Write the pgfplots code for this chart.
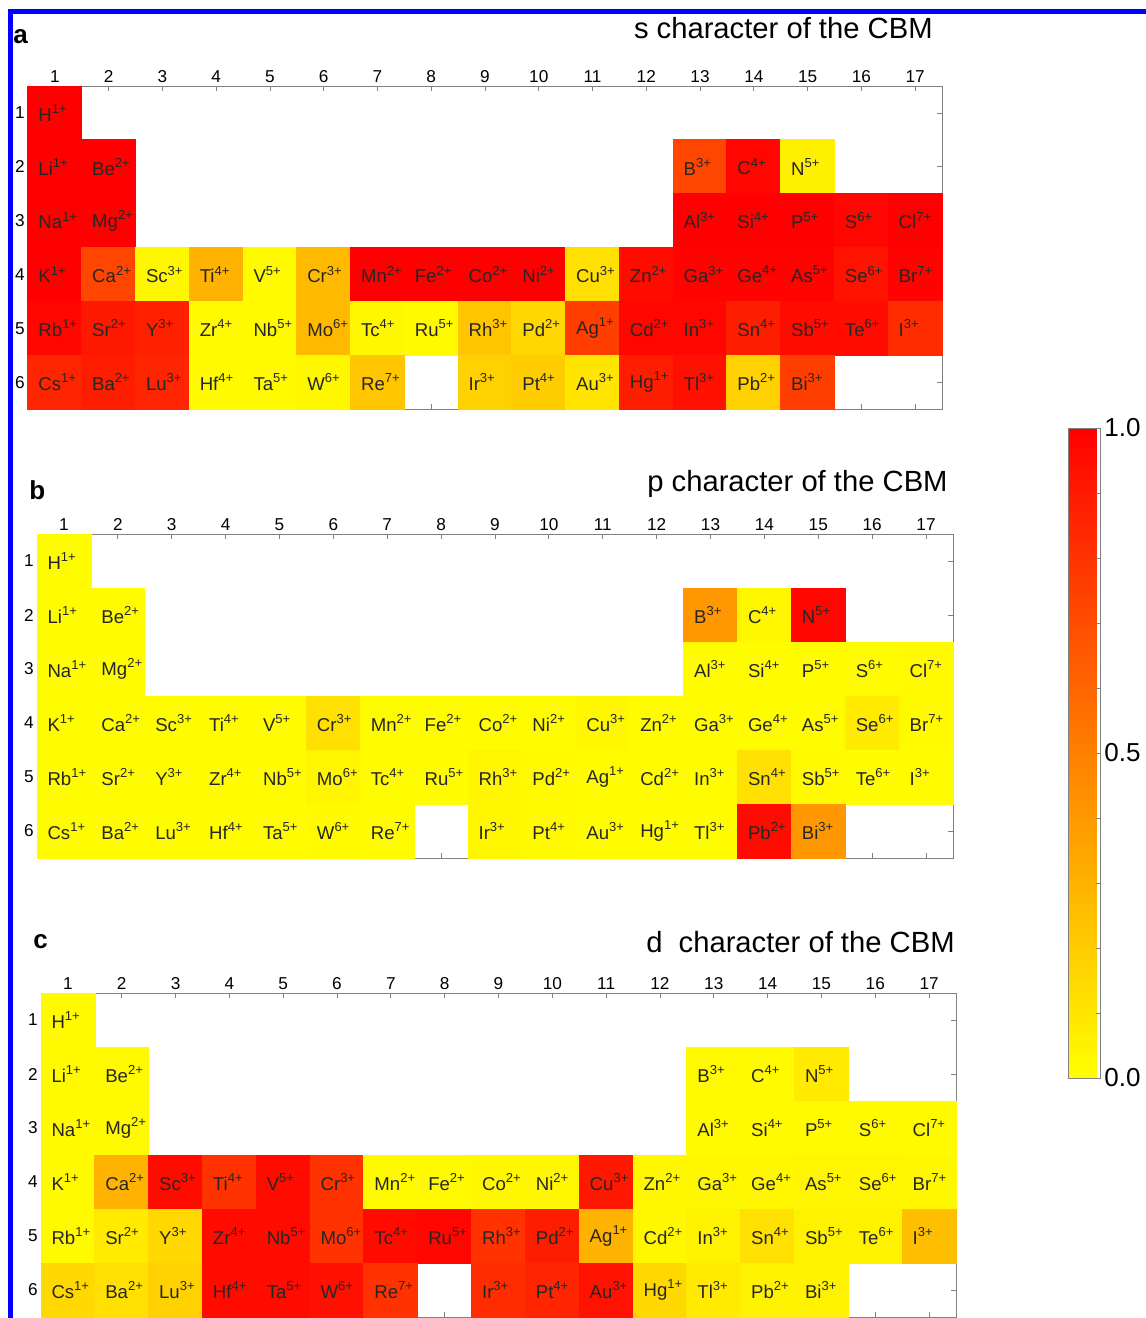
\documentclass[border=0pt]{standalone}
\usepackage{pgfplots}
\pgfplotsset{compat=1.18}
\usepackage{pgfplotstable}
\usepackage{fontspec}
\setmainfont{Liberation Sans}

\pgfplotstableread{
x y el q s p d
1 1 H 1 1.00 0.01 0.02
1 2 Li 1 1.00 0.01 0.02
2 2 Be 2 1.00 0.01 0.02
13 2 B 3 0.72 0.40 0.02
14 2 C 4 0.97 0.03 0.02
15 2 N 5 0.06 0.97 0.08
1 3 Na 1 1.00 0.01 0.02
2 3 Mg 2 1.00 0.01 0.02
13 3 Al 3 1.00 0.01 0.02
14 3 Si 4 1.00 0.01 0.02
15 3 P 5 1.00 0.01 0.02
16 3 S 6 0.97 0.01 0.02
17 3 Cl 7 1.00 0.02 0.02
1 4 K 1 1.00 0.01 0.02
2 4 Ca 2 0.72 0.01 0.30
3 4 Sc 3 0.03 0.01 0.95
4 4 Ti 4 0.30 0.01 0.80
5 4 V 5 0.02 0.01 0.95
6 4 Cr 3 0.27 0.12 0.80
7 4 Mn 2 1.00 0.01 0.02
8 4 Fe 2 1.00 0.01 0.02
9 4 Co 2 1.00 0.01 0.03
10 4 Ni 2 1.00 0.01 0.03
11 4 Cu 3 0.12 0.03 0.90
12 4 Zn 2 0.95 0.01 0.03
13 4 Ga 3 0.98 0.01 0.03
14 4 Ge 4 0.98 0.01 0.03
15 4 As 5 0.98 0.01 0.04
16 4 Se 6 0.92 0.08 0.04
17 4 Br 7 0.98 0.02 0.03
1 5 Rb 1 0.97 0.01 0.02
2 5 Sr 2 0.90 0.01 0.08
3 5 Y 3 0.87 0.01 0.15
4 5 Zr 4 0.02 0.01 0.95
5 5 Nb 5 0.02 0.01 0.95
6 5 Mo 6 0.27 0.04 0.80
7 5 Tc 4 0.03 0.01 0.95
8 5 Ru 5 0.02 0.01 0.97
9 5 Rh 3 0.22 0.04 0.80
10 5 Pd 2 0.15 0.02 0.88
11 5 Ag 1 0.75 0.01 0.30
12 5 Cd 2 0.97 0.01 0.03
13 5 In 3 0.97 0.01 0.05
14 5 Sn 4 0.88 0.12 0.12
15 5 Sb 5 0.95 0.02 0.05
16 5 Te 6 0.95 0.01 0.05
17 5 I 3 0.82 0.01 0.25
1 6 Cs 1 0.85 0.01 0.15
2 6 Ba 2 0.88 0.01 0.12
3 6 Lu 3 0.85 0.01 0.18
4 6 Hf 4 0.02 0.01 0.95
5 6 Ta 5 0.02 0.01 0.95
6 6 W 6 0.03 0.02 0.93
7 6 Re 7 0.22 0.01 0.80
9 6 Ir 3 0.18 0.03 0.82
10 6 Pt 4 0.20 0.02 0.85
11 6 Au 3 0.10 0.01 0.92
12 6 Hg 1 0.88 0.01 0.15
13 6 Tl 3 0.93 0.01 0.08
14 6 Pb 2 0.18 0.95 0.05
15 6 Bi 3 0.75 0.40 0.05
}\ptab

\pgfplotsset{
  myPTaxis/.style={
    scale only axis, anchor=north west,
    xmin=0.5, xmax=17.5, ymin=0.5, ymax=6.5, y dir=reverse,
    xtick={1,...,17}, ytick={1,...,6},
    xticklabel pos=right,
    tick align=inside, major tick length=2.5pt,
    axis line style={gray}, tick style={gray, line width=0.4pt},
    ticklabel style={font=\fontsize{8.6}{9}\selectfont, text=black},
    xticklabel style={inner sep=1.5pt},
    yticklabel style={inner sep=1.5pt},
    colormap={yr}{rgb=(1,1,0) rgb=(1,0,0)},
    point meta min=0, point meta max=1,
    axis on top,
    /pgf/number format/assume math mode=true,
  },
  myPTcells/.style={
    scatter, only marks, mark=square*, mark size=13.5pt,
    scatter/use mapped color={draw=mapped color, fill=mapped color},
    point meta=explicit,
  },
  myPTlabels/.style={
    draw=none, mark=none,
    point meta=explicit symbolic,
    visualization depends on={\thisrow{q}\as\chg},
    nodes near coords={\pgfplotspointmeta\textsuperscript{\pgfmathprintnumber{\chg}+}},
    every node near coord/.append style={anchor=west, xshift=-8.4pt, inner sep=0pt,
      text=black!85, font=\fontsize{9.3}{10}\selectfont},
  },
}

\begin{document}
\begin{tikzpicture}
\useasboundingbox (0,0) rectangle (573pt,-659pt);
\clip (0,0) rectangle (573pt,-659pt);

% panel a
\begin{axis}[myPTaxis, at={(14pt,-43pt)}, width=457pt, height=161.5pt]
\addplot[myPTcells] table[x=x, y=y, meta=s] {\ptab};
\addplot[myPTlabels] table[x=x, y=y, meta=el] {\ptab};
\end{axis}

% panel b
\begin{axis}[myPTaxis, at={(18.5pt,-267pt)}, width=458pt, height=162pt]
\addplot[myPTcells] table[x=x, y=y, meta=p] {\ptab};
\addplot[myPTlabels] table[x=x, y=y, meta=el] {\ptab};
\end{axis}

% panel c
\begin{axis}[myPTaxis, at={(20.5pt,-496.5pt)}, width=457.5pt, height=162pt]
\addplot[myPTcells] table[x=x, y=y, meta=d] {\ptab};
\addplot[myPTlabels] table[x=x, y=y, meta=el] {\ptab};
\end{axis}

% colour bar
\begin{axis}[at={(534pt,-214pt)}, anchor=north west, scale only axis,
  width=0pt, height=0pt, hide axis, xmin=0, xmax=1, ymin=0, ymax=1,
  colormap={yr}{rgb=(1,1,0) rgb=(1,0,0)},
  point meta min=0, point meta max=1,
  colorbar, colorbar shift/.style={},
  colorbar style={
    at={(parent axis.north west)}, anchor=north west,
    scale only axis, width=16pt, height=325pt,
    ytick={0,0.5,1}, yticklabels={0.0,0.5,1.0},
    minor ytick={0.1,0.2,0.3,0.4,0.6,0.7,0.8,0.9},
    ytick pos=right, yticklabel pos=right,
    tick align=inside, major tick length=2pt, minor tick length=2pt,
    axis line style={gray}, tick style={gray},
    yticklabel style={font=\fontsize{13}{14}\selectfont, inner sep=2pt},
  }]
\addplot[draw=none] coordinates {(0,0)};
\end{axis}

\node[anchor=base east, inner sep=0, font=\fontsize{14.6}{16}\selectfont] at (466.5pt,-19pt) {s character of the CBM};
\node[anchor=base east, inner sep=0, font=\fontsize{14.6}{16}\selectfont] at (474pt,-245.5pt) {p character of the CBM};
\node[anchor=base east, inner sep=0, font=\fontsize{14.6}{16}\selectfont] at (477.5pt,-476pt) {d\ \ character of the CBM};
\node[anchor=base west, font=\fontsize{13}{15}\selectfont\bfseries, inner sep=0] at (6.5pt,-21.5pt) {a};
\node[anchor=base west, font=\fontsize{13}{15}\selectfont\bfseries, inner sep=0] at (14.5pt,-249.5pt) {b};
\node[anchor=base west, font=\fontsize{13}{15}\selectfont\bfseries, inner sep=0] at (16.5pt,-474pt) {c};

\draw[blue, line width=2.5pt] (5pt,-659pt) -- (5pt,-5.5pt) -- (573pt,-5.5pt);
\end{tikzpicture}
\end{document}
